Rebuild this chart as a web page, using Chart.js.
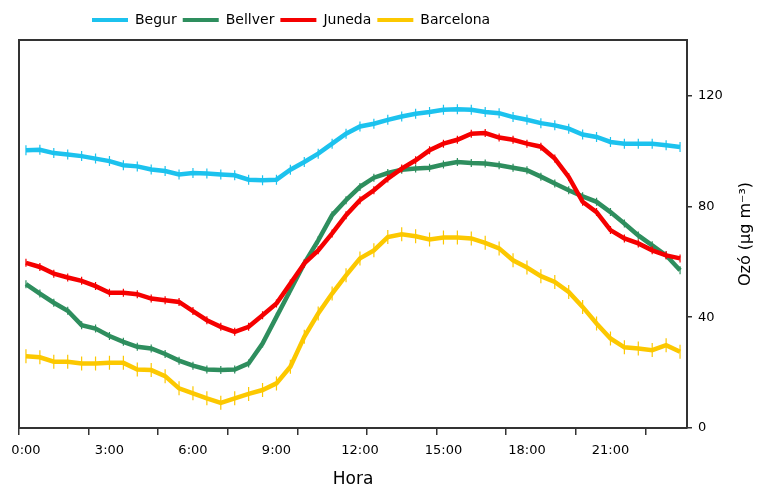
<!DOCTYPE html>
<html>
<head>
<meta charset="utf-8">
<script src="https://cdn.jsdelivr.net/npm/chart.js@4.4.1/dist/chart.umd.min.js"></script>
<style>
  body { margin: 0; background: #fff; }
  #wrap { width: 760px; height: 488px; }
</style>
</head>
<body>
<div id="wrap"><canvas id="ozoneChart"></canvas></div>
<script>
// =========================
// DATA (mitjanes cada 30 min)
// =========================
const hours = [
    "0:00", "0:30", "1:00", "1:30", "2:00", "2:30", "3:00", "3:30",
    "4:00", "4:30", "5:00", "5:30", "6:00", "6:30", "7:00", "7:30",
    "8:00", "8:30", "9:00", "9:30", "10:00", "10:30", "11:00", "11:30",
    "12:00", "12:30", "13:00", "13:30", "14:00", "14:30", "15:00", "15:30",
    "16:00", "16:30", "17:00", "17:30", "18:00", "18:30", "19:00", "19:30",
    "20:00", "20:30", "21:00", "21:30", "22:00", "22:30", "23:00", "23:30"
];
const shownHours = ["0:00", "3:00", "6:00", "9:00", "12:00", "15:00", "18:00", "21:00"];
const yTicks = [0, 40, 80, 120];

const begur = [
    100.2, 100.4, 99.2, 98.7, 98.1, 97.2, 96.3, 94.8, 94.4, 93.3, 92.7, 91.5,
    92.0, 91.8, 91.5, 91.2, 89.6, 89.4, 89.6, 93.2, 96.0, 99.0, 102.6, 106.2,
    108.8, 109.8, 111.2, 112.4, 113.4, 114.0, 114.8, 115.0, 114.8, 114.0, 113.6, 112.2,
    111.2, 110.0, 109.2, 108.0, 105.9, 105.0, 103.2, 102.6, 102.6, 102.6, 102.0, 101.4
];
const bellver = [
    51.9, 48.5, 45.2, 42.3, 37.1, 35.9, 33.2, 31.1, 29.3, 28.7, 26.7, 24.3,
    22.5, 21.1, 20.9, 21.1, 23.3, 30.5, 40.1, 49.7, 59.4, 67.7, 76.8, 82.2,
    87.0, 90.3, 92.0, 93.2, 93.6, 93.9, 95.1, 96.0, 95.6, 95.4, 94.8, 93.9,
    93.0, 90.7, 88.2, 85.8, 83.6, 81.6, 77.9, 73.8, 69.5, 65.9, 62.3, 56.9
];
const juneda = [
    59.6, 58.1, 55.7, 54.3, 53.1, 51.2, 48.8, 48.8, 48.3, 46.7, 46.1, 45.5,
    42.2, 38.9, 36.5, 34.7, 36.5, 40.7, 44.9, 52.1, 59.4, 64.1, 70.2, 76.8,
    82.2, 85.8, 90.0, 93.6, 96.6, 100.2, 102.6, 104.0, 106.2, 106.4, 104.8, 104.0,
    102.6, 101.5, 97.2, 90.6, 81.6, 77.9, 71.4, 68.4, 66.6, 64.1, 62.3, 61.2
];
const barcelona = [
    25.9, 25.5, 23.9, 23.9, 23.3, 23.3, 23.5, 23.5, 21.1, 20.9, 18.7, 14.3,
    12.5, 10.7, 9.1, 10.7, 12.3, 13.7, 16.1, 22.1, 32.9, 41.3, 48.5, 55.1,
    61.2, 64.1, 68.9, 69.9, 69.2, 68.0, 68.7, 68.7, 68.4, 66.8, 64.8, 60.5,
    57.9, 54.8, 52.7, 49.1, 43.7, 37.7, 32.3, 29.1, 28.7, 28.1, 29.9, 27.5
];

const axisColor = "#333";
Chart.defaults.font.family = "'DejaVu Sans', sans-serif";
Chart.defaults.color = "#000";

function serie(label, data, color, barLen, order) {
    return {
        label: label,
        data: data,
        borderColor: color,
        backgroundColor: color,
        borderWidth: 4.5,
        tension: 0,
        fill: false,
        pointStyle: "line",
        pointRotation: 90,
        pointRadius: barLen,
        pointHoverRadius: barLen,
        pointBorderWidth: 1.2,
        pointBorderColor: color,
        order: order,
        xAxisID: "x",
        yAxisID: "y"
    };
}

// legenda desplaçada cap a l'esquerra, títol de l'eix Y girat
const extras = {
    id: "extras",
    afterLayout(chart) {
        const lg = chart.legend;
        const dx = 92 - (lg.left + lg.options.labels.padding);
        lg.left += dx;
        lg.right += dx;
    },
    afterDraw(chart) {
        const ctx = chart.ctx;
        const a = chart.chartArea;
        ctx.save();
        ctx.translate(746, (a.top + a.bottom) / 2);
        ctx.rotate(-Math.PI / 2);
        ctx.fillStyle = "#000";
        ctx.font = "16px 'DejaVu Sans', sans-serif";
        ctx.textAlign = "center";
        ctx.textBaseline = "middle";
        ctx.fillText("Ozó (µg m⁻³)", 0, 0);
        ctx.restore();
    }
};

new Chart(document.getElementById("ozoneChart"), {
    type: "line",
    data: {
        labels: hours,
        datasets: [
            serie("Begur", begur, "#1CC2EE", 5, 3),
            serie("Bellver", bellver, "#2E8E5E", 4, 2),
            serie("Juneda", juneda, "#F50000", 4, 1),
            serie("Barcelona", barcelona, "#FCC800", 7, 0)
        ]
    },
    options: {
        responsive: true,
        maintainAspectRatio: false,
        animation: false,
        layout: { padding: { top: 7, left: 19, right: 0, bottom: 0 } },
        plugins: {
            tooltip: { enabled: false },
            legend: {
                position: "top",
                align: "start",
                labels: {
                    boxWidth: 36,
                    boxHeight: 4,
                    padding: 6,
                    font: { size: 14 },
                    color: "#000",
                    sort: (a, b) => a.datasetIndex - b.datasetIndex,
                    generateLabels: chart =>
                        Chart.defaults.plugins.legend.labels.generateLabels(chart)
                            .map(l => ({ ...l, lineWidth: 0, fillStyle: l.strokeStyle }))
                }
            }
        },
        scales: {
            x: {
                type: "category",
                position: "bottom",
                offset: true,
                grid: {
                    offset: true,
                    drawOnChartArea: false,
                    tickLength: 7,
                    lineWidth: 1.5,
                    color: c => (c.index % 5 === 0 ? axisColor : "rgba(0,0,0,0)")
                },
                border: { color: axisColor, width: 2 },
                ticks: {
                    autoSkip: false,
                    maxRotation: 0,
                    minRotation: 0,
                    padding: 8,
                    font: { size: 13 },
                    color: "#000",
                    callback: function (v) {
                        const lab = this.getLabelForValue(v);
                        return shownHours.includes(lab) ? lab : "";
                    }
                },
                title: {
                    display: true,
                    text: "Hora",
                    font: { size: 17, lineHeight: 1 },
                    padding: { top: 0, bottom: 0 },
                    color: "#000"
                },
                afterFit: s => { s.height = 60; }
            },
            y: {
                type: "linear",
                position: "right",
                min: 0,
                max: 140,
                grid: {
                    drawOnChartArea: false,
                    tickLength: 5,
                    lineWidth: 1.5,
                    color: axisColor
                },
                border: { color: axisColor, width: 2 },
                ticks: { padding: 6, font: { size: 13 }, color: "#000" },
                afterBuildTicks: s => { s.ticks = yTicks.map(v => ({ value: v })); },
                afterFit: s => { s.width = 73; }
            },
            xTop: {
                type: "category",
                position: "top",
                grid: { display: false },
                ticks: { display: false },
                border: { color: axisColor, width: 2 },
                afterFit: s => { s.height = 3; }
            },
            yLeft: {
                type: "linear",
                position: "left",
                min: 0,
                max: 140,
                grid: { display: false },
                ticks: { display: false },
                border: { color: axisColor, width: 2 },
                afterFit: s => { s.width = 0; }
            }
        }
    },
    plugins: [extras]
});
</script>
</body>
</html>
